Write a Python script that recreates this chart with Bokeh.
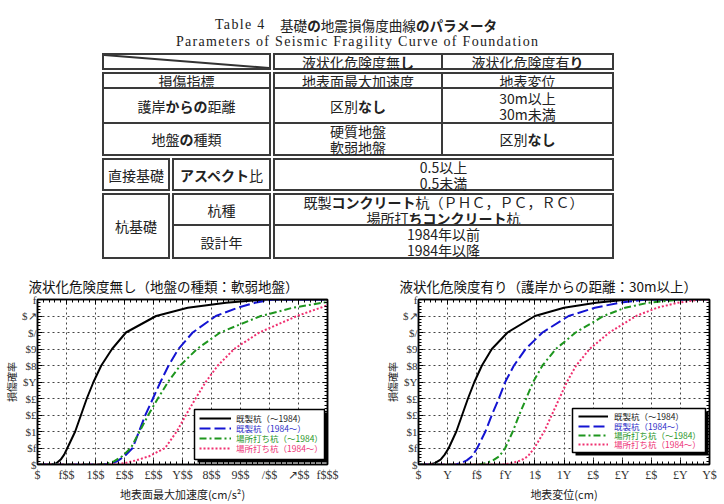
import numpy as np
from bokeh.plotting import figure
from bokeh.models import (Range1d, FixedTicker, LinearAxis, Legend, LegendItem,
                          BoxAnnotation, Div, CustomJSTickFormatter)
from bokeh.layouts import column, row
from bokeh.embed import file_html
from bokeh.resources import INLINE

# ---------------- data ----------------
prob_ticks = [0.0, 0.1, 0.2, 0.3, 0.4, 0.5, 0.6, 0.7, 0.8, 0.9, 1.0]
prob_tick_labels = ["$", "$f", "$1", "$£", "$£", "$Y", "$8", "$9", "$/", "$↗", "f"]
acc_ticks = [0, 100, 200, 300, 400, 500, 600, 700, 800, 900, 1000]
acc_tick_labels = ["$", "f$$", "1$$", "£$$", "£$$", "Y$$", "8$$", "9$$", "/$$", "↗$$", "f$$$"]
disp_ticks = [0, 5, 10, 15, 20, 25, 30, 35, 40, 45, 50]
disp_tick_labels = ["$", "Y", "f$", "fY", "1$", "1Y", "£$", "£Y", "£$", "£Y", "Y$"]

series_labels = ["既製杭（～1984）", "既製杭（1984～）", "場所打ち杭（～1984）", "場所打ち杭（1984～）"]

# left chart: peak ground acceleration (gal) vs damage probability
acc_existing_pre_x = [0, 48, 65, 80, 92, 103, 130, 150, 170, 193, 220, 257, 305, 409, 518, 650, 790, 1000]
acc_existing_pre_y = [0, 0, 0.008, 0.03, 0.06, 0.1, 0.2, 0.3, 0.4, 0.5, 0.6, 0.7, 0.8, 0.9, 0.95, 0.98, 1.0, 1.0]
acc_existing_post_x = [0, 222, 250, 275, 300, 328, 350, 372, 398, 424, 452, 486, 535, 615, 690, 750, 810, 1000]
acc_existing_post_y = [0, 0, 0.005, 0.02, 0.05, 0.1, 0.2, 0.3, 0.4, 0.5, 0.6, 0.7, 0.8, 0.9, 0.95, 0.98, 1.0, 1.0]
acc_cast_pre_x = [0, 208, 240, 265, 292, 322, 352, 382, 415, 450, 492, 550, 630, 770, 880, 1000]
acc_cast_pre_y = [0, 0, 0.005, 0.02, 0.05, 0.1, 0.2, 0.3, 0.4, 0.5, 0.6, 0.7, 0.8, 0.9, 0.95, 0.985]
acc_cast_post_x = [0, 250, 300, 340, 385, 440, 480, 512, 545, 580, 622, 678, 765, 895, 1000]
acc_cast_post_y = [0, 0, 0.008, 0.025, 0.05, 0.1, 0.2, 0.3, 0.4, 0.5, 0.6, 0.7, 0.8, 0.9, 0.965]

# right chart: ground displacement (cm) vs damage probability
disp_existing_pre_x = [0, 1.8, 2.8, 3.8, 4.5, 5.2, 6.5, 7.5, 8.5, 9.6, 10.9, 12.6, 15.3, 20.0, 25.0, 30.5, 36.0, 50]
disp_existing_pre_y = [0, 0, 0.008, 0.03, 0.06, 0.1, 0.2, 0.3, 0.4, 0.5, 0.6, 0.7, 0.8, 0.9, 0.95, 0.98, 1.0, 1.0]
disp_existing_post_x = [0, 6.3, 7.3, 8.3, 9.2, 10.1, 11.5, 12.6, 13.8, 14.9, 16.4, 18.4, 21.3, 25.8, 30.3, 34.5, 39.0, 50]
disp_existing_post_y = [0, 0, 0.008, 0.025, 0.05, 0.1, 0.2, 0.3, 0.4, 0.5, 0.6, 0.7, 0.8, 0.9, 0.95, 0.98, 1.0, 1.0]
disp_cast_pre_x = [0, 10.3, 11.6, 12.8, 13.9, 14.9, 16.2, 17.3, 18.5, 19.7, 21.3, 23.6, 27.0, 31.8, 35.5, 39.5, 45.0, 50]
disp_cast_pre_y = [0, 0, 0.008, 0.025, 0.05, 0.1, 0.2, 0.3, 0.4, 0.5, 0.6, 0.7, 0.8, 0.9, 0.95, 0.98, 1.0, 1.0]
disp_cast_post_x = [0, 14.4, 16.0, 17.6, 18.8, 19.9, 21.6, 22.9, 24.2, 25.5, 27.1, 29.4, 32.8, 37.4, 41.0, 44.5, 48.5, 50]
disp_cast_post_y = [0, 0, 0.008, 0.025, 0.05, 0.1, 0.2, 0.3, 0.4, 0.5, 0.6, 0.7, 0.8, 0.9, 0.95, 0.98, 1.0, 1.0]

# ---------------- styles ----------------
CJK = "Noto Sans CJK JP"
line_colors = ["#000000", "#1414d2", "#1e961e", "#f03070"]
label_colors = ["#222222", "#3030c8", "#2a962a", "#ee3377"]
line_dashes = ["solid", "11 4", "7 3 2 3", "2 2"]

prob_minor = np.round(np.arange(0, 1.0001, 0.02), 4).tolist()
acc_minor = np.arange(0, 1001, 20).tolist()
disp_minor = np.arange(0, 50.01, 1).tolist()


def tick_formatter(tv, tl):
    return CustomJSTickFormatter(
        args=dict(tv=[float(t) for t in tv], tl=tl),
        code="for (let i = 0; i < tv.length; i++) { if (Math.abs(tv[i] - tick) < 1e-6) return tl[i]; } return '';")


def style_axis(ax, labels):
    ax.axis_line_color = "black"
    ax.axis_line_width = 1.5
    ax.major_tick_in = 5
    ax.major_tick_out = 0
    ax.minor_tick_in = 3
    ax.minor_tick_out = 0
    ax.major_tick_line_color = "black"
    ax.minor_tick_line_color = "black"
    if labels:
        ax.major_label_text_font = "Liberation Serif"
        ax.major_label_text_font_size = "12px"
        ax.major_label_text_color = "#333333"
        ax.major_label_standoff = 3
        ax.axis_label_text_font = CJK
        ax.axis_label_text_font_size = "11px"
        ax.axis_label_text_font_style = "normal"
        ax.axis_label_text_color = "#222222"
        ax.axis_label_standoff = 1
    else:
        ax.formatter = CustomJSTickFormatter(code="return '';")
        ax.major_label_standoff = 0


def build_chart(x_max, x_ticks, x_labels, x_minor, x_title, title, title_offset,
                xs, ys, b_left, b_right, box, glyph_x, glyph_w, standoff, centers):
    p = figure(width=362, height=244, x_range=Range1d(0, x_max), y_range=Range1d(0, 1),
               output_backend="svg", toolbar_location=None,
               min_border_left=b_left, min_border_right=b_right,
               min_border_top=39, min_border_bottom=36)
    p.background_fill_color = "white"
    p.border_fill_color = "white"
    p.outline_line_color = "black"
    p.outline_line_width = 1.5

    xt = FixedTicker(ticks=x_ticks, minor_ticks=x_minor)
    yt = FixedTicker(ticks=prob_ticks, minor_ticks=prob_minor)

    xa = p.xaxis[0]
    xa.ticker = xt
    xa.formatter = tick_formatter(x_ticks, x_labels)
    xa.axis_label = x_title
    style_axis(xa, True)
    ya = p.yaxis[0]
    ya.ticker = yt
    ya.formatter = tick_formatter(prob_ticks, prob_tick_labels)
    ya.axis_label = "損傷確率"
    style_axis(ya, True)
    ya.major_label_text_font_size = "11px"
    ya.axis_label_text_font_size = "10px"
    ya.axis_label_standoff = 0
    ya.major_label_standoff = 1

    top = LinearAxis(ticker=xt)
    style_axis(top, False)
    p.add_layout(top, "above")
    right = LinearAxis(ticker=yt)
    style_axis(right, False)
    p.add_layout(right, "right")

    p.xgrid.ticker = xt
    p.ygrid.ticker = yt
    for g in (p.xgrid[0], p.ygrid[0]):
        g.grid_line_color = "#444444"
        g.grid_line_dash = "2 3"
        g.grid_line_width = 1
        g.minor_grid_line_color = None

    p.title.text = title
    p.title.text_font = CJK
    p.title.text_font_size = "13.5px"
    p.title.text_font_style = "normal"
    p.title.text_color = "#111111"
    p.title.align = "left"
    p.title.offset = title_offset
    p.title.standoff = 8

    renderers = []
    for x, y, c, d in zip(xs, ys, line_colors, line_dashes):
        r = p.line(x, y, line_color=c, line_width=2, line_dash=d)
        renderers.append(r)

    bl, br, bb, bt = box
    shadow = BoxAnnotation(left=bl + 3, right=br + 3, bottom=bb - 3, top=bt - 3,
                           left_units="screen", right_units="screen",
                           bottom_units="screen", top_units="screen",
                           fill_color="black", fill_alpha=1, line_alpha=0)
    frame = BoxAnnotation(left=bl, right=br, bottom=bb, top=bt,
                          left_units="screen", right_units="screen",
                          bottom_units="screen", top_units="screen",
                          fill_color="white", fill_alpha=1, line_color="black",
                          line_alpha=1, line_width=1.5)
    p.add_layout(shadow, "center")
    p.add_layout(frame, "center")

    for r, lab, col, cy in zip(renderers, series_labels, label_colors, centers):
        lg = Legend(items=[LegendItem(label=lab, renderers=[r])],
                    location=(glyph_x, cy - 6), orientation="vertical",
                    padding=0, margin=0, spacing=0,
                    glyph_width=glyph_w, glyph_height=12, label_height=12,
                    label_standoff=standoff, label_text_font=CJK,
                    label_text_font_size="8.5px", label_text_color=col,
                    border_line_alpha=0, background_fill_alpha=0)
        p.add_layout(lg, "center")
    return p


p_left = build_chart(
    1000, acc_ticks, acc_tick_labels, acc_minor, "地表面最大加速度(cm/s²)",
    "液状化危険度無し（地盤の種類：軟弱地盤）", -9,
    [acc_existing_pre_x, acc_existing_post_x, acc_cast_pre_x, acc_cast_post_x],
    [acc_existing_pre_y, acc_existing_post_y, acc_cast_pre_y, acc_cast_post_y],
    36, 35, (157, 287, 5, 55), 162, 32, 5, [46, 36, 26, 16])

p_right = build_chart(
    50, disp_ticks, disp_tick_labels, disp_minor, "地表変位(cm)",
    "液状化危険度有り（護岸からの距離：30m以上）", -19,
    [disp_existing_pre_x, disp_existing_post_x, disp_cast_pre_x, disp_cast_post_x],
    [disp_existing_pre_y, disp_existing_post_y, disp_cast_pre_y, disp_cast_post_y],
    56, 15, (154, 287, 12, 56), 160, 30, 6, [48, 38.5, 29, 20])

# ---------------- table (HTML) ----------------
table_title_en = "Table 4"
table_title_jp = "基礎<b>の</b>地震損傷度曲線<b>のパラメータ</b>"
table_subtitle = "Parameters of Seismic Fragility Curve of Foundation"
col_heads = ["液状化危険度無<b>し</b>", "液状化危険度有<b>り</b>"]
row_index = ["損傷指標", "地表面最大加速度", "地表変位"]
row_distance = ["護岸<b>からの</b>距離", "区別<b>なし</b>", "30m以上<br>30m未満"]
row_soil = ["地盤<b>の</b>種類", "硬質地盤<br>軟弱地盤", "区別<b>なし</b>"]
row_direct = ["直接基礎", "<b>アスペクト</b>比", "0.5以上<br>0.5未満"]
row_pile_type = ["杭基礎", "杭種", "既製<b>コンクリート</b>杭（ＰＨＣ，ＰＣ，ＲＣ）<br>場所打<b>ちコンクリート</b>杭"]
row_pile_year = ["設計年", "1984年以前<br>1984年以降"]

L, A, M, N, R = 102, 171, 272, 442, 614
T, H, Y2, Y3, Y4, Y5, Y6, B = 53, 71, 88, 123, 157, 192, 225, 259


def cell(l, t, r, b, inner="", extra=""):
    return (f'<div style="position:absolute;left:{l}px;top:{t}px;width:{r - l}px;height:{b - t}px;'
            f'box-sizing:border-box;border:2px solid #3a3a3a;display:flex;align-items:center;'
            f'justify-content:center;text-align:center;font-family:\'{CJK}\',sans-serif;'
            f'font-size:14px;line-height:16px;color:#222;white-space:nowrap;">{extra}'
            f'<div>{inner}</div></div>')


diag_w, diag_h = (M - 1 - L) - 4, (H - 1 - T) - 4
diag = (f'<svg width="{diag_w}" height="{diag_h}" style="position:absolute;left:0;top:0">'
        f'<line x1="0" y1="0" x2="{diag_w}" y2="{diag_h}" stroke="#333" stroke-width="2"/></svg>')

parts = []
serif = "font-family:'Liberation Serif',serif;font-size:14px;letter-spacing:1.3px;color:#222;white-space:pre;"
parts.append(f'<div style="position:absolute;left:215px;top:16px;line-height:18px;{serif}">{table_title_en}</div>')
parts.append(f'<div style="position:absolute;left:280px;top:16px;line-height:18px;font-family:\'{CJK}\';'
             f'font-size:13.6px;color:#222;white-space:nowrap;">{table_title_jp}</div>')
parts.append(f'<div style="position:absolute;left:176px;top:33px;line-height:18px;{serif}">{table_subtitle}</div>')

c0, c1, c2 = (L, M - 1), (M + 1, N + 1), (N - 1, R)
rows3 = [((T, H - 1), ["", col_heads[0], col_heads[1]]),
         ((H + 1, Y2 + 1), row_index),
         ((Y2 - 1, Y3 + 1), row_distance),
         ((Y3 - 1, Y4 - 1), row_soil)]
first = True
for (t, b), texts in rows3:
    for (l, r), tx in zip([c0, c1, c2], texts):
        parts.append(cell(l, t, r, b, tx, diag if first else ""))
        first = False

parts.append(cell(L, Y4 + 1, A - 1, Y5 - 1, row_direct[0]))
parts.append(cell(A + 1, Y4 + 1, M - 1, Y5 - 1, row_direct[1]))
parts.append(cell(M + 1, Y4 + 1, R, Y5 - 1, row_direct[2]))
parts.append(cell(L, Y5 + 1, A - 1, B, row_pile_type[0]))
parts.append(cell(A + 1, Y5 + 1, M - 1, Y6 + 1, row_pile_type[1]))
parts.append(cell(M + 1, Y5 + 1, R, Y6 + 1, row_pile_type[2]))
parts.append(cell(A + 1, Y6 - 1, M - 1, B, row_pile_year[0]))
parts.append(cell(M + 1, Y6 - 1, R, B, row_pile_year[1]))

html = ('<div style="position:relative;width:724px;height:260px;background:white;">'
        + "".join(parts) + '</div>')
table_div = Div(text=html, width=724, height=260, margin=0)

layout = column(table_div, row(p_left, p_right, spacing=0), spacing=0)

open("out.html", "w").write(file_html(layout, INLINE))
